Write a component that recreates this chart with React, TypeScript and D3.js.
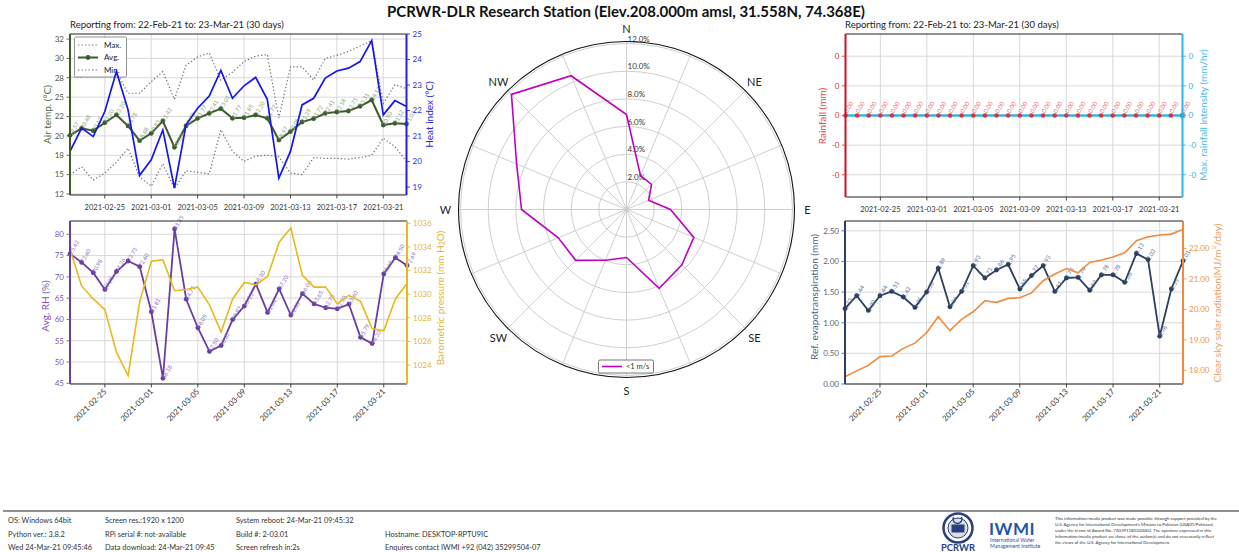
import React from "react";
import * as d3 from "d3";

const FONT = "Lato, 'Open Sans', 'DejaVu Sans', sans-serif";

// ---------- DATA ----------
const dayLabels = [
  "2021-02-22", "2021-02-23", "2021-02-24", "2021-02-25", "2021-02-26", "2021-02-27", "2021-02-28",
  "2021-03-01", "2021-03-02", "2021-03-03", "2021-03-04", "2021-03-05", "2021-03-06", "2021-03-07",
  "2021-03-08", "2021-03-09", "2021-03-10", "2021-03-11", "2021-03-12", "2021-03-13", "2021-03-14",
  "2021-03-15", "2021-03-16", "2021-03-17", "2021-03-18", "2021-03-19", "2021-03-20", "2021-03-21",
  "2021-03-22", "2021-03-23",
];
const dateTickLabels = ["2021-02-25", "2021-03-01", "2021-03-05", "2021-03-09", "2021-03-13", "2021-03-17", "2021-03-21"];

const maxTemp = [27.1, 27.1, 27.9, 28.2, 27.8, 25.0, 25.0, 26.5, 27.8, 24.2, 28.6, 29.7, 30.2, 26.7, 27.7, 29.1, 29.8, 30.0, 21.8, 28.4, 28.4, 26.7, 29.5, 29.9, 30.4, 31.1, 31.8, 23.7, 26.1, 25.6];
const avgTemp = [19.57, 20.48, 20.17, 21.2, 22.2, 20.78, 18.88, 19.83, 21.42, 18.03, 20.78, 21.77, 22.41, 23.01, 21.77, 21.85, 22.2, 21.77, 18.97, 20.05, 21.29, 21.72, 22.41, 22.58, 22.71, 23.31, 24.13, 20.9, 21.12, 21.03];
const minTemp = [14.5, 15.5, 13.8, 14.7, 16.1, 17.9, 14.2, 13.0, 15.9, 12.7, 15.0, 14.8, 14.6, 20.3, 17.5, 16.2, 16.9, 17.0, 16.8, 14.7, 14.5, 16.7, 16.6, 16.6, 16.5, 16.7, 17.0, 19.2, 18.1, 16.2];
const heatIndex = [20.4, 21.31, 20.98, 21.96, 23.53, 22.03, 19.46, 20.07, 21.24, 18.96, 21.44, 22.09, 22.57, 23.57, 22.48, 22.97, 23.3, 22.44, 19.35, 20.4, 22.22, 22.48, 23.27, 23.55, 23.66, 23.92, 24.74, 21.83, 22.39, 22.16];
const tempTickValues = [12, 14.5, 17, 19.5, 22, 24.5, 27, 29.5, 32];
const tempTickLabels = ["12", "15", "18", "20", "22", "25", "28", "30", "32"];
const heatTickValues = [19, 20, 21, 22, 23, 24, 25];

const avgRH = [75.42, 73.4, 70.98, 67.05, 71.26, 73.73, 72.4, 61.81, 46.18, 81.25, 64.75, 58.05, 52.5, 53.87, 59.97, 63.15, 68.3, 61.64, 67.2, 61.03, 66.06, 63.65, 62.75, 62.5, 63.6, 55.79, 54.33, 70.69, 74.5, 72.69];
const pressure = [1033.8, 1030.7, 1029.6, 1028.7, 1025.1, 1023.1, 1029.4, 1032.8, 1032.9, 1030.3, 1030.4, 1030.6, 1029.1, 1026.8, 1029.6, 1031.0, 1030.8, 1031.5, 1034.4, 1035.6, 1031.6, 1030.6, 1030.6, 1029.2, 1029.9, 1029.4, 1027.1, 1026.9, 1029.6, 1030.9];
const rhTicks = [45, 50, 55, 60, 65, 70, 75, 80];
const pressureTicks = [1024, 1026, 1028, 1030, 1032, 1034, 1036];

const rainfall = [0, 0, 0, 0, 0, 0, 0, 0, 0, 0, 0, 0, 0, 0, 0, 0, 0, 0, 0, 0, 0, 0, 0, 0, 0, 0, 0, 0, 0, 0];
const rainIntensity = [0, 0, 0, 0, 0, 0, 0, 0, 0, 0, 0, 0, 0, 0, 0, 0, 0, 0, 0, 0, 0, 0, 0, 0, 0, 0, 0, 0, 0, 0];
const rainTickValues = [0.04, 0.02, 0, -0.02, -0.04];
const rainTickLabels = ["0", "0", "0", "-0", "-0"];

const refET = [1.23, 1.44, 1.2, 1.44, 1.51, 1.42, 1.25, 1.5, 1.89, 1.26, 1.51, 1.93, 1.73, 1.86, 1.95, 1.55, 1.77, 1.93, 1.51, 1.73, 1.74, 1.53, 1.78, 1.78, 1.66, 2.13, 2.03, 0.78, 1.55, 2.01];
const solarRad = [17.79, 17.98, 18.16, 18.45, 18.47, 18.72, 18.89, 19.23, 19.76, 19.3, 19.67, 19.92, 20.28, 20.23, 20.36, 20.38, 20.54, 20.94, 21.16, 21.34, 21.2, 21.54, 21.62, 21.72, 21.86, 22.25, 22.38, 22.44, 22.47, 22.63];
const etTicks = [0, 0.5, 1.0, 1.5, 2.0, 2.5];
const solarTicks = [18, 19, 20, 21, 22];

const windDirections = ["N", "NNE", "NE", "ENE", "E", "ESE", "SE", "SSE", "S", "SSW", "SW", "WSW", "W", "WNW", "NW", "NNW"];
const windFreq = [6.87, 2.65, 2.56, 1.73, 3.18, 5.27, 5.66, 6.18, 3.47, 3.97, 5.2, 5.34, 7.59, 8.6, 11.77, 10.47];
const windRings = [2, 4, 6, 8, 10, 12];
const compassLabels = ["N", "NE", "E", "SE", "S", "SW", "W", "NW"];

const footerRows = [
  ["OS: Windows 64bit", "Screen res.:1920 x 1200", "System reboot: 24-Mar-21  09:45:32", ""],
  ["Python ver.: 3.8.2", "RPi serial #: not-available", "Build #: 2-03.01", "Hostname: DESKTOP-RPTU9IC"],
  ["Wed 24-Mar-21  09:45:46", "Data download: 24-Mar-21  09:45", "Screen refresh in:2s", "Enquires contact IWMI  +92 (042) 35299504-07"],
];
const disclaimer = [
  "This information/media product was made possible through support provided by the",
  "U.S. Agency for International Development's Mission to Pakistan (USAID/Pakistan)",
  "under the terms of Award No. 72039118IO00003. The opinions expressed in this",
  "information/media product are those of the author(s) and do not necessarily reflect",
  "the views of the U.S. Agency for International Development.",
];

// ---------- HELPERS ----------
const parse = d3.timeParse("%Y-%m-%d");
const days = dayLabels.map((d) => parse(d) as Date);
const tickDays = dateTickLabels.map((d) => parse(d) as Date);

type Box = { x0: number; x1: number; y0: number; y1: number };

function YTicks({ scale, values, labels, x, side, color, size = 8 }: any) {
  const dir = side === "left" ? -1 : 1;
  return (
    <g>
      {values.map((v: number, i: number) => (
        <g key={i}>
          <line x1={x} x2={x + dir * 3.5} y1={scale(v)} y2={scale(v)} stroke={color} strokeWidth={0.9} />
          <text x={x + dir * 6} y={scale(v)} dy="0.35em" textAnchor={side === "left" ? "end" : "start"} fontSize={size} fill={color}>
            {labels ? labels[i] : v}
          </text>
        </g>
      ))}
    </g>
  );
}

function XTicks({ scale, y, rotated }: any) {
  return (
    <g>
      {tickDays.map((d, i) => {
        const x = scale(d);
        return (
          <g key={i}>
            <line x1={x} x2={x} y1={y} y2={y + 3.5} stroke="#333" strokeWidth={0.9} />
            {rotated ? (
              <text x={x + 2} y={y + 8} textAnchor="end" fontSize={7.8} fill="#333" transform={`rotate(-45 ${x + 2} ${y + 8})`}>
                {dateTickLabels[i]}
              </text>
            ) : (
              <text x={x} y={y + 14.5} textAnchor="middle" fontSize={7.5} fill="#333">
                {dateTickLabels[i]}
              </text>
            )}
          </g>
        );
      })}
    </g>
  );
}

function Grid({ b, xs, ys, yvals }: any) {
  return (
    <g stroke="#d4d4d4" strokeWidth={0.9}>
      {tickDays.map((d, i) => (
        <line key={"v" + i} x1={xs(d)} x2={xs(d)} y1={b.y0} y2={b.y1} />
      ))}
      {yvals.map((v: number, i: number) => (
        <line key={"h" + i} x1={b.x0} x2={b.x1} y1={ys(v)} y2={ys(v)} />
      ))}
    </g>
  );
}

function Frame({ b, left, right }: any) {
  return (
    <g>
      <line x1={b.x0} x2={b.x1} y1={b.y0} y2={b.y0} stroke="#222" strokeWidth={1.2} />
      <line x1={b.x0} x2={b.x1} y1={b.y1} y2={b.y1} stroke="#222" strokeWidth={1.2} />
      <line x1={b.x0} x2={b.x0} y1={b.y0} y2={b.y1} stroke={left} strokeWidth={2} />
      <line x1={b.x1} x2={b.x1} y1={b.y0} y2={b.y1} stroke={right} strokeWidth={2} />
    </g>
  );
}

function VLabel({ x, y, color, children, size = 10 }: any) {
  return (
    <text x={x} y={y} textAnchor="middle" dominantBaseline="central" fontSize={size} fill={color} transform={`rotate(-90 ${x} ${y})`}>
      {children}
    </text>
  );
}

function PointLabels({ xs, ys, vals, color, size = 5.8, fmt = (v: number) => v.toFixed(2) }: any) {
  return (
    <g>
      {vals.map((v: number, i: number) => {
        const x = xs(days[i]) + 2;
        const y = ys(v) + 1;
        return (
          <text key={i} x={x} y={y} fontSize={size} fill={color} transform={`rotate(-60 ${x} ${y})`}>
            {fmt(v)}
          </text>
        );
      })}
    </g>
  );
}

// ---------- PANELS ----------
function TempPanel() {
  const b: Box = { x0: 70, x1: 406.5, y0: 34, y1: 195 };
  const xs = d3.scaleTime().domain([days[0], days[days.length - 1]]).range([b.x0, b.x1]);
  const ys = d3.scaleLinear().domain([11.87, 32.65]).range([b.y1, b.y0]);
  const yh = d3.scaleLinear().domain([18.69, 25]).range([b.y1, b.y0]);
  const line = (s: any, v: number[]) => d3.line<number>().x((_, i) => xs(days[i])).y((d) => s(d))(v) as string;
  const green = "#3d5c2c";
  return (
    <g>
      <text x={70} y={28} fontSize={9.5} fill="#222">Reporting from: 22-Feb-21 to: 23-Mar-21 (30 days)</text>
      <Grid b={b} xs={xs} ys={ys} yvals={tempTickValues} />
      <path d={line(ys, maxTemp)} fill="none" stroke="#6e6e6e" strokeWidth={1.2} strokeDasharray="1.3,2.2" />
      <path d={line(ys, minTemp)} fill="none" stroke="#6e6e6e" strokeWidth={1.2} strokeDasharray="1.3,2.2" />
      <path d={line(ys, avgTemp)} fill="none" stroke={green} strokeWidth={2} />
      {avgTemp.map((v, i) => (
        <circle key={i} cx={xs(days[i])} cy={ys(v)} r={2.4} fill={green} />
      ))}
      <PointLabels xs={xs} ys={ys} vals={avgTemp} color="#8aa57a" />
      {/* legend */}
      <g>
        <rect x={74.5} y={37} width={52} height={40} fill="#fff" fillOpacity={0.85} stroke="#777" strokeWidth={0.8} rx={1.5} />
        <line x1={78} x2={98} y1={45} y2={45} stroke="#6e6e6e" strokeWidth={1.2} strokeDasharray="1.3,2.2" />
        <text x={104} y={47.7} fontSize={8} fill="#222">Max.</text>
        <line x1={78} x2={98} y1={57.5} y2={57.5} stroke={green} strokeWidth={2} />
        <circle cx={88} cy={57.5} r={2.4} fill={green} />
        <text x={104} y={60.2} fontSize={8} fill="#222">Avg.</text>
        <line x1={78} x2={98} y1={70} y2={70} stroke="#6e6e6e" strokeWidth={1.2} strokeDasharray="1.3,2.2" />
        <text x={104} y={72.7} fontSize={8} fill="#222">Min.</text>
      </g>
      <path d={line(yh, heatIndex)} fill="none" stroke="#1515ee" strokeWidth={1.7} />
      <Frame b={b} left="#3a5a28" right="#2020e8" />
      <YTicks scale={ys} values={tempTickValues} labels={tempTickLabels} x={b.x0} side="left" color="#4f5a48" />
      <YTicks scale={yh} values={heatTickValues} x={b.x1} side="right" color="#2a2ae0" />
      <XTicks scale={xs} y={b.y1} />
      <VLabel x={47} y={114.5} color="#4d6b3c">Air temp. (°C)</VLabel>
      <VLabel x={429} y={114.5} color="#2020e0">Heat index (°C)</VLabel>
    </g>
  );
}

function RHPanel() {
  const b: Box = { x0: 70, x1: 407, y0: 221, y1: 384 };
  const xs = d3.scaleTime().domain([days[0], days[days.length - 1]]).range([b.x0, b.x1]);
  const ys = d3.scaleLinear().domain([44.84, 83.12]).range([b.y1, b.y0]);
  const yp = d3.scaleLinear().domain([1022.4, 1036.2]).range([b.y1, b.y0]);
  const line = (s: any, v: number[]) => d3.line<number>().x((_, i) => xs(days[i])).y((d) => s(d))(v) as string;
  const purple = "#6a3ea1";
  const gold = "#e8b81e";
  return (
    <g>
      <Grid b={b} xs={xs} ys={ys} yvals={rhTicks} />
      <path d={line(ys, avgRH)} fill="none" stroke={purple} strokeWidth={1.8} />
      {avgRH.map((v, i) => (
        <circle key={i} cx={xs(days[i])} cy={ys(v)} r={2.4} fill={purple} />
      ))}
      <PointLabels xs={xs} ys={ys} vals={avgRH} color="#8d72c0" />
      <path d={line(yp, pressure)} fill="none" stroke={gold} strokeWidth={1.6} />
      <Frame b={b} left={purple} right={gold} />
      <YTicks scale={ys} values={rhTicks} x={b.x0} side="left" color="#7a5cb0" />
      <YTicks scale={yp} values={pressureTicks} x={b.x1} side="right" color="#e0b83a" />
      <XTicks scale={xs} y={b.y1} rotated />
      <VLabel x={45} y={306} color="#7a55b5">Avg. RH (%)</VLabel>
      <VLabel x={440} y={298} color="#e2b52e">
        Barometric pressure (mm H<tspan fontSize={7} dy={2}>2</tspan><tspan dy={-2}>O)</tspan>
      </VLabel>
    </g>
  );
}

function RainPanel() {
  const b: Box = { x0: 845.5, x1: 1182.5, y0: 34, y1: 197 };
  const xs = d3.scaleTime().domain([days[0], days[days.length - 1]]).range([b.x0, b.x1]);
  const ys = d3.scaleLinear().domain([-0.055, 0.055]).range([b.y1, b.y0]);
  const line = (s: any, v: number[]) => d3.line<number>().x((_, i) => xs(days[i])).y((d) => s(d))(v) as string;
  const red = "#e0303c";
  const cyan = "#2eb4e6";
  return (
    <g>
      <text x={845} y={28} fontSize={9.5} fill="#222">Reporting from: 22-Feb-21 to: 23-Mar-21 (30 days)</text>
      <Grid b={b} xs={xs} ys={ys} yvals={rainTickValues} />
      <path d={line(ys, rainIntensity)} fill="none" stroke={cyan} strokeWidth={2.4} />
      {rainfall.map((v, i) => (
        <circle key={i} cx={xs(days[i])} cy={ys(v)} r={2.3} fill={red} />
      ))}
      <circle cx={xs(days[days.length - 1])} cy={ys(rainIntensity[rainIntensity.length - 1])} r={2.6} fill="none" stroke={cyan} strokeWidth={1} />
      <PointLabels xs={xs} ys={(v: number) => ys(v) - 3} vals={rainfall} color="#ee6f78" size={6} />
      <Frame b={b} left="#c8141e" right={cyan} />
      <YTicks scale={ys} values={rainTickValues} labels={rainTickLabels} x={b.x0} side="left" color={red} />
      <YTicks scale={ys} values={rainTickValues} labels={rainTickLabels} x={b.x1} side="right" color={cyan} />
      <XTicks scale={xs} y={b.y1} />
      <VLabel x={822} y={116} color="#e5434d">Rainfall (mm)</VLabel>
      <VLabel x={1203} y={115} color="#45bde8">Max. rainfall intensity (mm/hr)</VLabel>
    </g>
  );
}

function ETPanel() {
  const b: Box = { x0: 845, x1: 1183, y0: 221, y1: 384 };
  const xs = d3.scaleTime().domain([days[0], days[days.length - 1]]).range([b.x0, b.x1]);
  const ys = d3.scaleLinear().domain([0, 2.66]).range([b.y1, b.y0]);
  const yr = d3.scaleLinear().domain([17.55, 22.9]).range([b.y1, b.y0]);
  const line = (s: any, v: number[]) => d3.line<number>().x((_, i) => xs(days[i])).y((d) => s(d))(v) as string;
  const navy = "#2c3d5e";
  const orange = "#f08a3e";
  return (
    <g>
      <Grid b={b} xs={xs} ys={ys} yvals={etTicks} />
      <path d={line(ys, refET)} fill="none" stroke={navy} strokeWidth={1.8} />
      {refET.map((v, i) => (
        <circle key={i} cx={xs(days[i])} cy={ys(v)} r={2.4} fill={navy} />
      ))}
      <PointLabels xs={xs} ys={ys} vals={refET} color="#5b6f92" />
      <path d={line(yr, solarRad)} fill="none" stroke={orange} strokeWidth={1.6} />
      <Frame b={b} left={navy} right={orange} />
      <YTicks scale={ys} values={etTicks} labels={etTicks.map((v) => v.toFixed(2))} x={b.x0} side="left" color="#55657f" />
      <YTicks scale={yr} values={solarTicks} labels={solarTicks.map((v) => v.toFixed(2))} x={b.x1} side="right" color="#ee9550" />
      <XTicks scale={xs} y={b.y1} rotated />
      <VLabel x={814} y={297} color="#4d5f80">Ref. evapotranspiration (mm)</VLabel>
      <VLabel x={1217} y={303} color="#f0a060">
        Clear sky solar radiation(MJ/m<tspan fontSize={6.5} dy={-4}>2</tspan><tspan dy={4}>/day)</tspan>
      </VLabel>
    </g>
  );
}

function WindRose() {
  const cx = 626.5;
  const cy = 209.5;
  const R = 168;
  const rs = d3.scaleLinear().domain([0, 12.15]).range([0, R]);
  const step = (2 * Math.PI) / windDirections.length;
  const path = d3
    .lineRadial<number>()
    .angle((_, i) => i * step)
    .radius((d) => rs(d))
    .curve(d3.curveLinearClosed)(windFreq) as string;
  return (
    <g>
      <circle cx={cx} cy={cy} r={R} fill="#fff" />
      <g stroke="#c9c9c9" strokeWidth={0.9} fill="none">
        {windRings.map((r) => (
          <circle key={r} cx={cx} cy={cy} r={rs(r)} />
        ))}
        {windDirections.map((_, i) => {
          const a = i * step;
          return <line key={i} x1={cx} y1={cy} x2={cx + R * Math.sin(a)} y2={cy - R * Math.cos(a)} />;
        })}
      </g>
      {windRings.map((r) => (
        <text key={r} x={cx + 1} y={cy - rs(r) - 1.8} fontSize={8} fill="#333">
          {r.toFixed(1)}%
        </text>
      ))}
      <path d={path} transform={`translate(${cx},${cy})`} fill="none" stroke="#bf00bf" strokeWidth={1.6} />
      <circle cx={cx} cy={cy} r={R} fill="none" stroke="#111" strokeWidth={1.1} />
      {compassLabels.map((l, i) => {
        const a = (i * Math.PI) / 4;
        const d = 181;
        return (
          <text key={l} x={cx + d * Math.sin(a)} y={cy - d * Math.cos(a)} textAnchor="middle" dominantBaseline="central" fontSize={11} fill="#222">
            {l}
          </text>
        );
      })}
      <g>
        <rect x={598.5} y={360} width={55} height={13} fill="#fff" stroke="#555" strokeWidth={0.8} rx={1.5} />
        <line x1={602} x2={622} y1={366.5} y2={366.5} stroke="#bf00bf" strokeWidth={1.6} />
        <text x={626} y={369.3} fontSize={7.5} fill="#333">&lt;1 m/s</text>
      </g>
    </g>
  );
}

function Footer() {
  const colX = [8, 105, 236, 385];
  const rowY = [522.5, 536.5, 550];
  return (
    <g>
      <line x1={3} x2={1239} y1={511} y2={511} stroke="#6b6b6b" strokeWidth={1.4} />
      {footerRows.map((row, r) =>
        row.map((t, c) =>
          t ? (
            <text key={r + "-" + c} x={colX[c]} y={rowY[r]} fontSize={7.4} fill="#333">
              {t}
            </text>
          ) : null
        )
      )}
      {/* PCRWR emblem */}
      <g>
        <circle cx={958} cy={528} r={14.5} fill="#fff" stroke="#2b3f7c" strokeWidth={2.5} />
        <circle cx={958} cy={528} r={10} fill="#d8deec" stroke="#2b3f7c" strokeWidth={1} />
        <rect x={951.5} y={524.5} width={13} height={8} fill="#2b3f7c" />
        <path d="M 953.5 517 a 4.5 4.5 0 1 0 8 0" fill="none" stroke="#2b3f7c" strokeWidth={1.4} />
        <text x={958} y={550.5} textAnchor="middle" fontSize={9.5} fontWeight="bold" fill="#2b3f7c">PCRWR</text>
      </g>
      {/* IWMI logo */}
      <g>
        <text x={989} y={535} fontSize={17} fontWeight="bold" fill="#1f57a8" letterSpacing={0.5}>IWMI</text>
        <text x={990} y={542} fontSize={5.2} fill="#1f57a8">International Water</text>
        <text x={990} y={548} fontSize={5.2} fill="#1f57a8">Management Institute</text>
      </g>
      {disclaimer.map((t, i) => (
        <text key={i} x={1055} y={520 + i * 6} fontSize={4.4} fill="#333">
          {t}
        </text>
      ))}
    </g>
  );
}

export default function App() {
  return (
    <svg
      width={1239}
      height={552}
      viewBox="0 0 1239 552"
      style={{ position: "absolute", left: 0, top: 0, background: "#fff", fontFamily: FONT }}
    >
      <rect x={0} y={0} width={1239} height={552} fill="#fff" />
      <text x={626} y={17} textAnchor="middle" fontSize={15} fontWeight="bold" fill="#111">
        PCRWR-DLR Research Station (Elev.208.000m amsl, 31.558N, 74.368E)
      </text>
      <WindRose />
      <TempPanel />
      <RHPanel />
      <RainPanel />
      <ETPanel />
      <Footer />
    </svg>
  );
}
